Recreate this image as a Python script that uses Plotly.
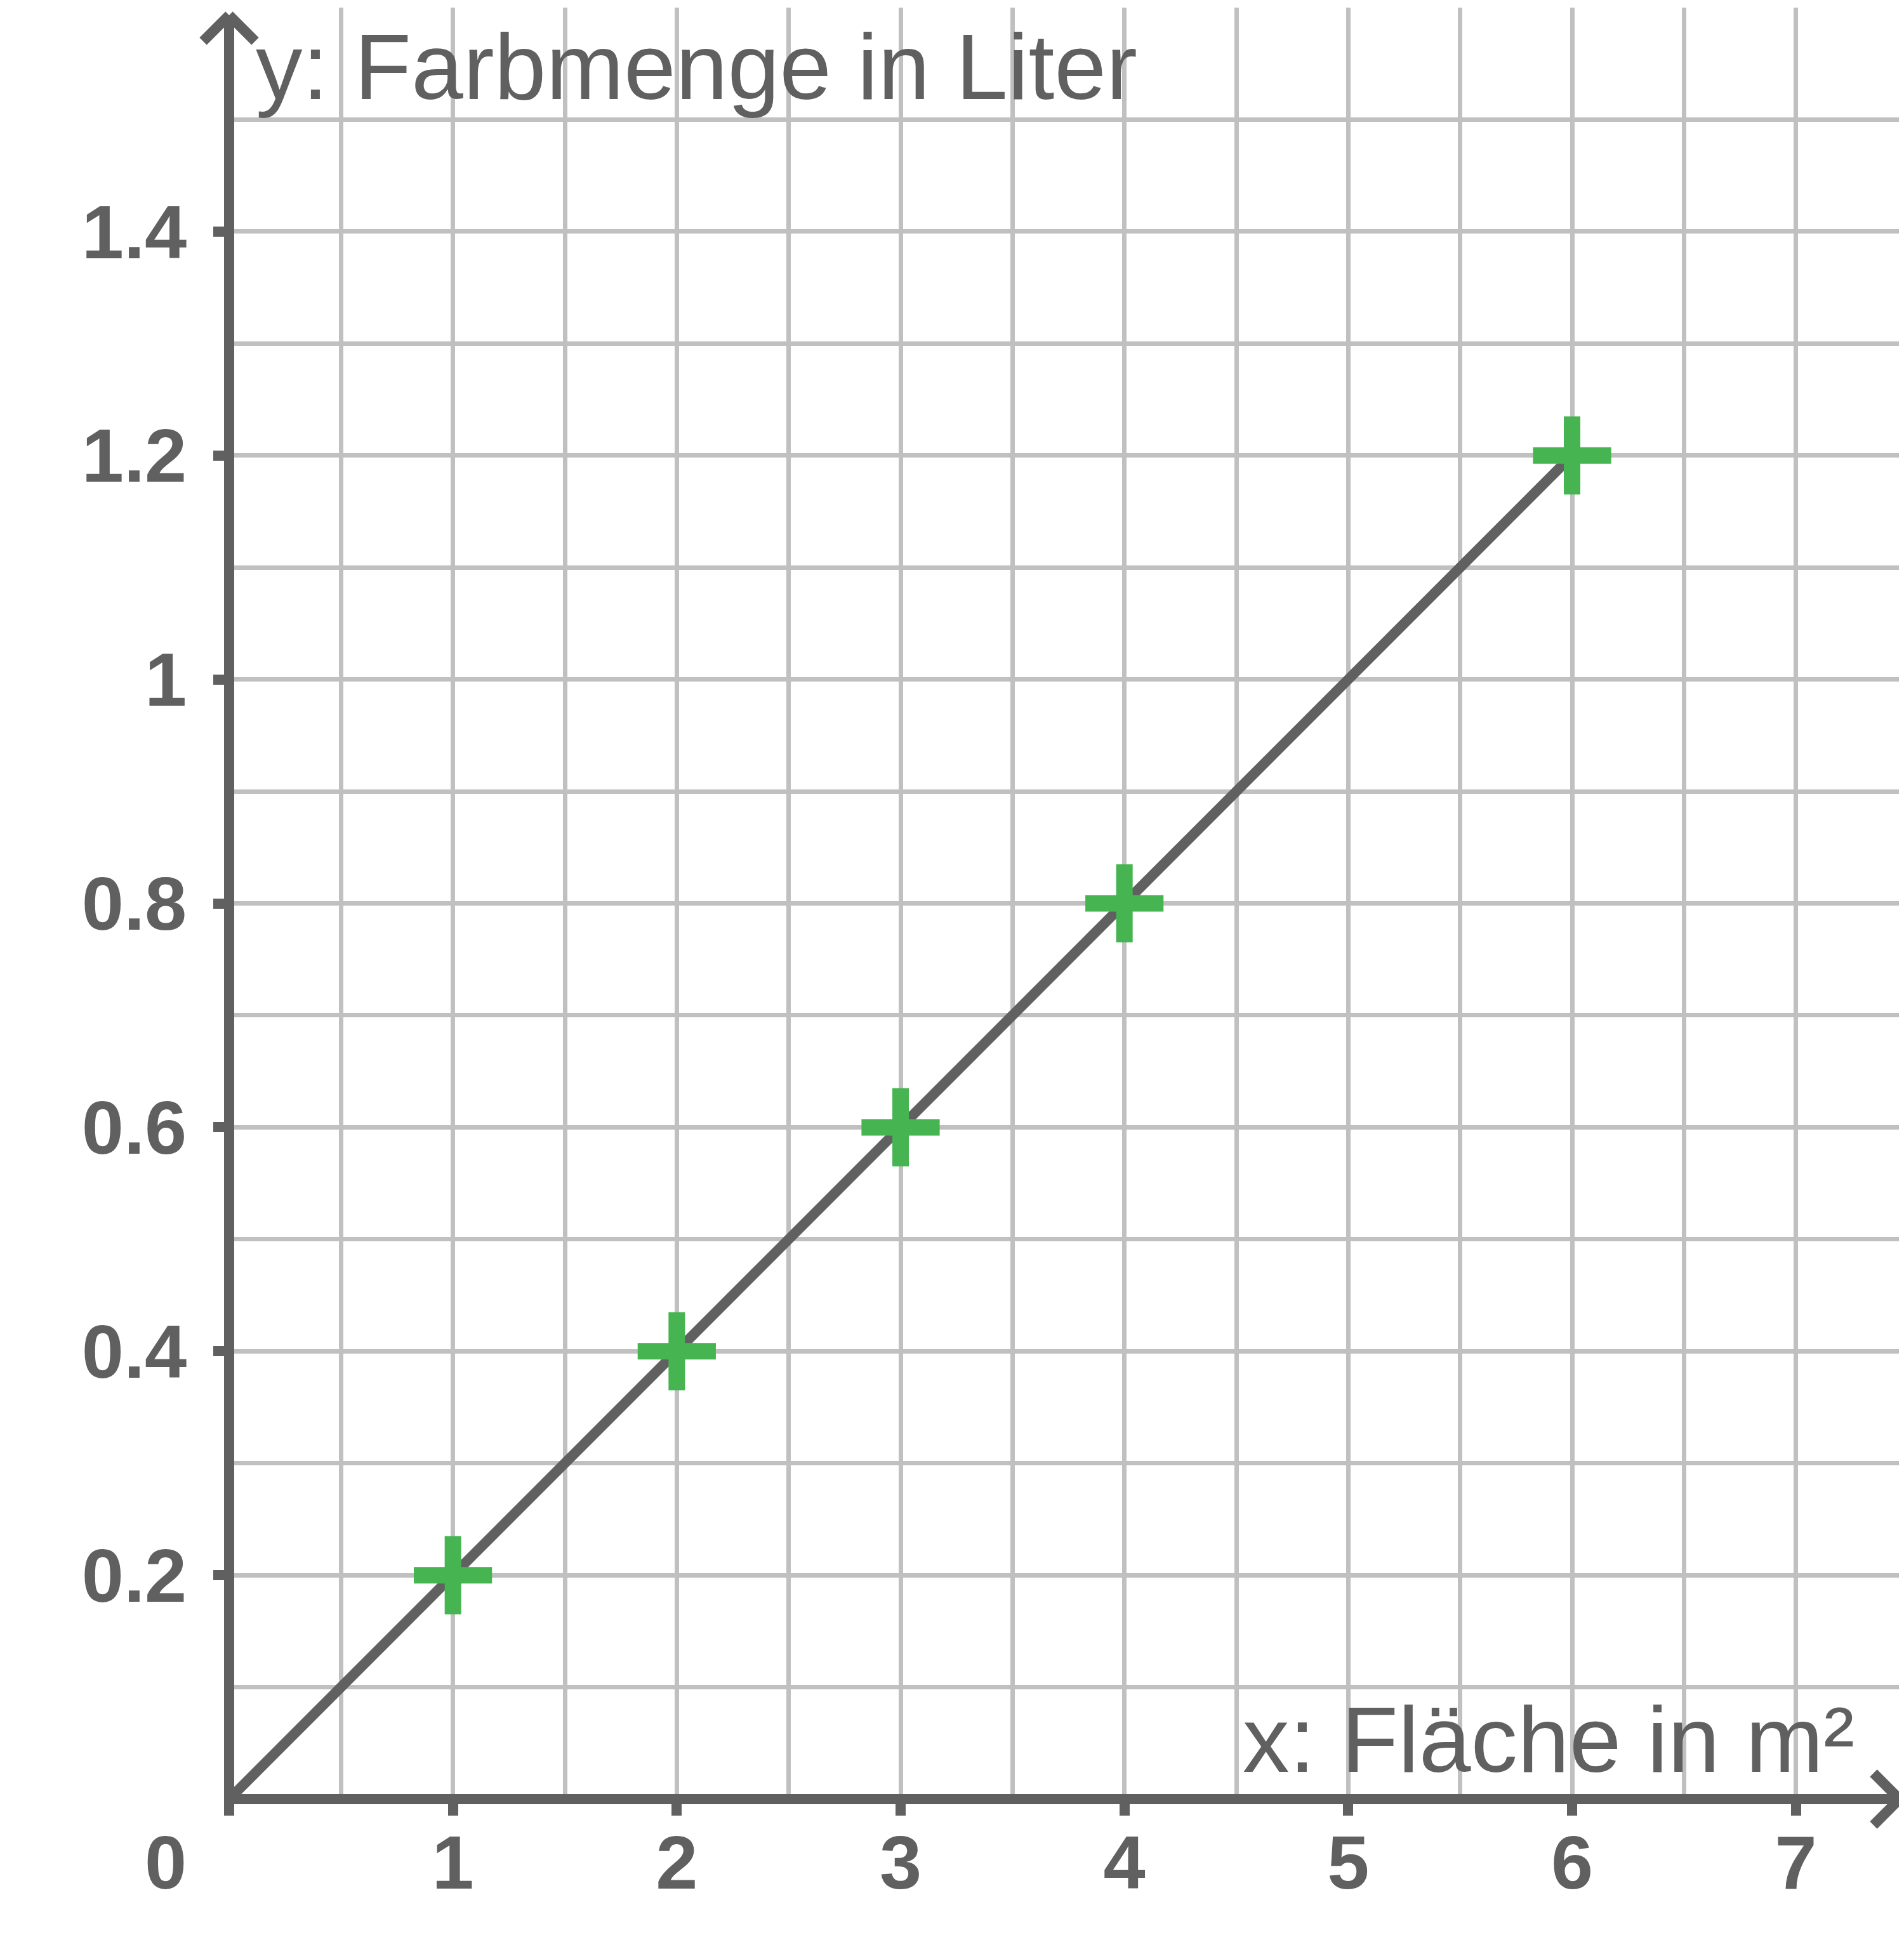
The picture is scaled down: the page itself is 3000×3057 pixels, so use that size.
import plotly.graph_objects as go

# ---- data ----
x_pts = [1, 2, 3, 4, 6]
y_pts = [0.2, 0.4, 0.6, 0.8, 1.2]
line_x = [0, 6]
line_y = [0, 1.2]
x_tickvals = [0, 1, 2, 3, 4, 5, 6, 7]
x_ticktext = ["", "1", "2", "3", "4", "5", "6", "7"]
y_tickvals = [0.2, 0.4, 0.6, 0.8, 1.0, 1.2, 1.4]
y_ticktext = ["0.2", "0.4", "0.6", "0.8", "1", "1.2", "1.4"]
x_title = "x: Fläche in m²"
y_title = "y: Farbmenge in Liter"
origin_label = "0"
x_range = [0, 7.5]
y_range = [0, 1.6]

# ---- style ----
W, H = 3000, 3057
L, R, T, B = 353, 2, 4, 230
DARK = "#606060"
GRID = "#c0c0c0"
GREEN = "#46b450"
FONT = "Liberation Sans, Arial, Helvetica, sans-serif"
AXW = 16
TICKSIZE = 119

pw = W - L - R
ph = H - T - B


def px(xv):
    return (xv - x_range[0]) / (x_range[1] - x_range[0])


def py(yv):
    return (yv - y_range[0]) / (y_range[1] - y_range[0])


def dx(p):
    return p / pw


def dy(p):
    return p / ph


fig = go.Figure()
fig.add_trace(go.Scatter(
    x=line_x, y=line_y, mode="lines",
    line=dict(color=DARK, width=16), hoverinfo="skip", showlegend=False,
))
fig.add_trace(go.Scatter(
    x=x_pts, y=y_pts, mode="markers", cliponaxis=False,
    marker=dict(symbol="cross-thin", size=88, color=GREEN,
                line=dict(color=GREEN, width=26)),
    showlegend=False,
))

shapes = []
ox, oy = px(0), py(0)
xe, ye = px(x_range[1]), py(y_range[1])
# axis lines
shapes.append(dict(type="line", xref="paper", yref="paper",
                   x0=ox - dx(AXW / 2), x1=xe - dx(13), y0=oy, y1=oy,
                   line=dict(color=DARK, width=AXW), layer="above"))
shapes.append(dict(type="line", xref="paper", yref="paper",
                   x0=ox, x1=ox, y0=oy - dy(AXW / 2), y1=ye - dy(12),
                   line=dict(color=DARK, width=AXW), layer="above"))
# arrow heads
for s in (-1, 1):
    shapes.append(dict(type="line", xref="paper", yref="paper",
                       x0=xe - dx(13), y0=oy, x1=xe - dx(54), y1=oy + s * dy(41),
                       line=dict(color=DARK, width=AXW), layer="above"))
    shapes.append(dict(type="line", xref="paper", yref="paper",
                       x0=ox, y0=ye - dy(12), x1=ox + s * dx(41), y1=ye - dy(53),
                       line=dict(color=DARK, width=AXW), layer="above"))

annotations = [
    dict(text=y_title, xref="paper", yref="paper", x=ox + dx(40), y=1 + dy(T) - dy(97),
         xanchor="left", yanchor="middle", showarrow=False,
         font=dict(family=FONT, size=147, color=DARK)),
    dict(text=x_title, xref="paper", yref="paper", x=px(x_range[1]) - dx(2998 - 2916),
         y=dy(2827 - 2733), xanchor="right", yanchor="middle", showarrow=False,
         font=dict(family=FONT, size=147, color=DARK)),
    dict(text=origin_label, xref="paper", yref="paper", x=-dx(100), y=-dy(2926 - 2827),
         xanchor="center", yanchor="middle", showarrow=False,
         font=dict(family=FONT, size=TICKSIZE, color=DARK, weight="bold")),
]

fig.update_layout(
    width=W, height=H,
    margin=dict(l=L, r=R, t=T, b=B, pad=0),
    paper_bgcolor="white", plot_bgcolor="white",
    shapes=shapes, annotations=annotations,
    showlegend=False,
)
fig.update_xaxes(
    range=x_range, tickmode="array", tickvals=x_tickvals, ticktext=x_ticktext,
    showline=False, zeroline=False, showgrid=True, gridcolor=GRID, gridwidth=7,
    ticks="outside", ticklen=25, tickwidth=AXW, tickcolor=DARK,
    ticklabelstandoff=-28,
    tickfont=dict(family=FONT, size=TICKSIZE, color=DARK, weight="bold"),
    minor=dict(tickmode="linear", tick0=0, dtick=0.5, showgrid=True,
               gridcolor=GRID, gridwidth=7, ticks=""),
    fixedrange=True,
)
fig.update_yaxes(
    range=y_range, tickmode="array", tickvals=y_tickvals, ticktext=y_ticktext,
    showline=False, zeroline=False, showgrid=True, gridcolor=GRID, gridwidth=7,
    ticks="outside", ticklen=24, tickwidth=AXW, tickcolor=DARK,
    ticklabelstandoff=18,
    tickfont=dict(family=FONT, size=TICKSIZE, color=DARK, weight="bold"),
    minor=dict(tickmode="linear", tick0=0, dtick=0.1, showgrid=True,
               gridcolor=GRID, gridwidth=7, ticks=""),
    fixedrange=True,
)

fig.write_html("out.html")
